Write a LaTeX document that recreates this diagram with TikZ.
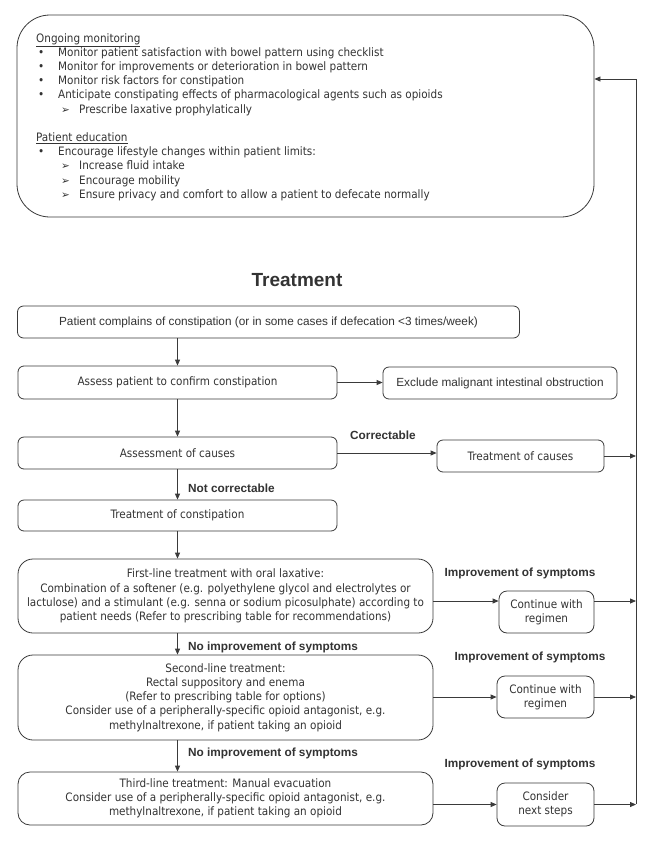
\documentclass[tikz,border=0pt]{standalone}
\usepackage{fontspec}
\setmainfont{Liberation Sans}
\newfontfamily\cond{DejaVu Sans Condensed}
\newfontfamily\dvs{DejaVu Sans}
\usetikzlibrary{arrows.meta,calc}
\definecolor{ink}{HTML}{333333}
\definecolor{edgec}{HTML}{3A3A3A}
\newcommand\bitem[1]{\hspace*{2pt}\makebox[20pt][l]{•}#1}
\newcommand\aitem[1]{\hspace*{25pt}\makebox[18pt][l]{{\dvs\fontsize{10.5}{14}\selectfont ➢}}#1}
\begin{document}
\begin{tikzpicture}[x=1pt,y=-1pt,
  box/.style={draw=edgec, line width=0.8pt, rounded corners=6pt, align=center, inner sep=0pt, text=ink},
  condtxt/.style={font=\cond\fontsize{11.6}{14.2}\selectfont},
  arialtxt/.style={font=\fontsize{11.8}{14}\selectfont},
  lbl/.style={font=\bfseries\fontsize{11.8}{14}\selectfont, text=ink, inner sep=0pt},
  arr/.style={draw=edgec, line width=0.8pt, -{Triangle[length=6pt,width=5pt]}},
  ln/.style={draw=edgec, line width=0.8pt}]
\useasboundingbox (0,0) rectangle (653,844);
\fill[white] (0,0) rectangle (653,844);

% top box
\node[box, rounded corners=33pt, minimum width=577pt, minimum height=202pt] (top) at (305.5,116) {};
\node[anchor=north west, align=left, condtxt, inner sep=0pt, text=ink] (toptext) at (36,33)
{\underline{Ongoing monitoring}\\
\bitem{Monitor patient satisfaction with bowel pattern using checklist}\\
\bitem{Monitor for improvements or deterioration in bowel pattern}\\
\bitem{Monitor risk factors for constipation}\\
\bitem{Anticipate constipating effects of pharmacological agents such as opioids}\\
\aitem{Prescribe laxative prophylatically}\\[14.2pt]
\underline{Patient education}\\
\bitem{Encourage lifestyle changes within patient limits:}\\
\aitem{Increase fluid intake}\\
\aitem{Encourage mobility}\\
\aitem{Ensure privacy and comfort to allow a patient to defecate normally}};

\node[font=\bfseries\fontsize{19}{22}\selectfont, text=ink] (title) at (297,280) {Treatment};

\node[box, arialtxt, minimum width=502pt, minimum height=32pt] (b1) at (268.5,322) {Patient complains of constipation (or in some cases if defecation <3 times/week)};
\node[box, condtxt, minimum width=319pt, minimum height=33pt] (b2) at (177.5,382.5) {Assess patient to confirm constipation};
\node[box, arialtxt, minimum width=234pt, minimum height=32pt] (excl) at (500,383) {Exclude malignant intestinal obstruction};
\node[box, condtxt, minimum width=319pt, minimum height=32pt] (b3) at (177.5,453) {Assessment of causes};
\node[box, condtxt, minimum width=167pt, minimum height=32pt] (causes) at (520.5,456) {Treatment of causes};
\node[box, condtxt, minimum width=319pt, minimum height=31pt] (b4) at (177.5,515.5) {Treatment of constipation};
\node[box, condtxt, rounded corners=15pt, minimum width=415pt, minimum height=74pt] (b5) at (225.5,596)
{First-line treatment with oral laxative:\\
Combination of a softener (e.g. polyethylene glycol and electrolytes or\\
lactulose) and a stimulant (e.g. senna or sodium picosulphate) according to\\
patient needs (Refer to prescribing table for recommendations)};
\node[box, condtxt, rounded corners=8pt, minimum width=95pt, minimum height=42pt] (c1) at (546.5,612) {Continue with\\regimen};
\node[box, condtxt, rounded corners=15pt, minimum width=415pt, minimum height=85pt] (b6) at (225.5,697.5)
{Second-line treatment:\\
Rectal suppository and enema\\
(Refer to prescribing table for options)\\
Consider use of a peripherally-specific opioid antagonist, e.g.\\
methylnaltrexone, if patient taking an opioid};
\node[box, condtxt, rounded corners=8pt, minimum width=97pt, minimum height=42pt] (c2) at (545.5,697) {Continue with\\regimen};
\node[box, condtxt, rounded corners=12pt, minimum width=415pt, minimum height=53pt] (b7) at (225.5,798.5)
{Third-line treatment: Manual evacuation\\
Consider use of a peripherally-specific opioid antagonist, e.g.\\
methylnaltrexone, if patient taking an opioid};
\node[box, condtxt, rounded corners=8pt, minimum width=97pt, minimum height=43pt] (c3) at (545.5,804.5) {Consider\\next steps};

% labels
\node[lbl] (corr) at (383,435) {Correctable};
\node[lbl, anchor=west] (notc) at (188,488) {Not correctable};
\node[lbl] (imp1) at (520,573) {Improvement of symptoms};
\node[lbl, anchor=west] (noimp1) at (188,647) {No improvement of symptoms};
\node[lbl] (imp2) at (530,657) {Improvement of symptoms};
\node[lbl, anchor=west] (noimp2) at (188,753) {No improvement of symptoms};
\node[lbl] (imp3) at (520,764) {Improvement of symptoms};

% feedback line
\coordinate (fbT) at (636,79);
\coordinate (fbB) at (636,804);
\draw[ln] (fbB) -- (fbT);
\draw[arr] (fbT) -- (fbT -| top.east);

% connectors
\draw[arr] (b2.north |- b1.south) -- (b2.north);
\draw[arr] (b2.east) -- (b2.east -| excl.west);
\draw[arr] (b2.south) -- (b3.north);
\draw[arr] (b3.east) -- (b3.east -| causes.west);
\draw[arr] (causes.east) -- (causes.east -| fbT);
\draw[arr] (b3.south) -- (b4.north);
\draw[arr] (b4.south) -- (b4.south |- b5.north);
\draw[arr] (b4.south |- b5.south) -- (b4.south |- b6.north);
\draw[arr] (b4.south |- b6.south) -- (b4.south |- b7.north);
\draw[arr] ([yshift=11pt]c1.west -| b5.east) -- ([yshift=11pt]c1.west);
\draw[arr] ([yshift=11pt]c1.east) -- ([yshift=11pt]c1.east -| fbT);
\draw[arr] (c2.west -| b6.east) -- (c2.west);
\draw[arr] (c2.east) -- (c2.east -| fbT);
\draw[arr] (c3.west -| b7.east) -- (c3.west);
\draw[arr] (c3.east) -- (c3.east -| fbT);
\end{tikzpicture}
\end{document}
